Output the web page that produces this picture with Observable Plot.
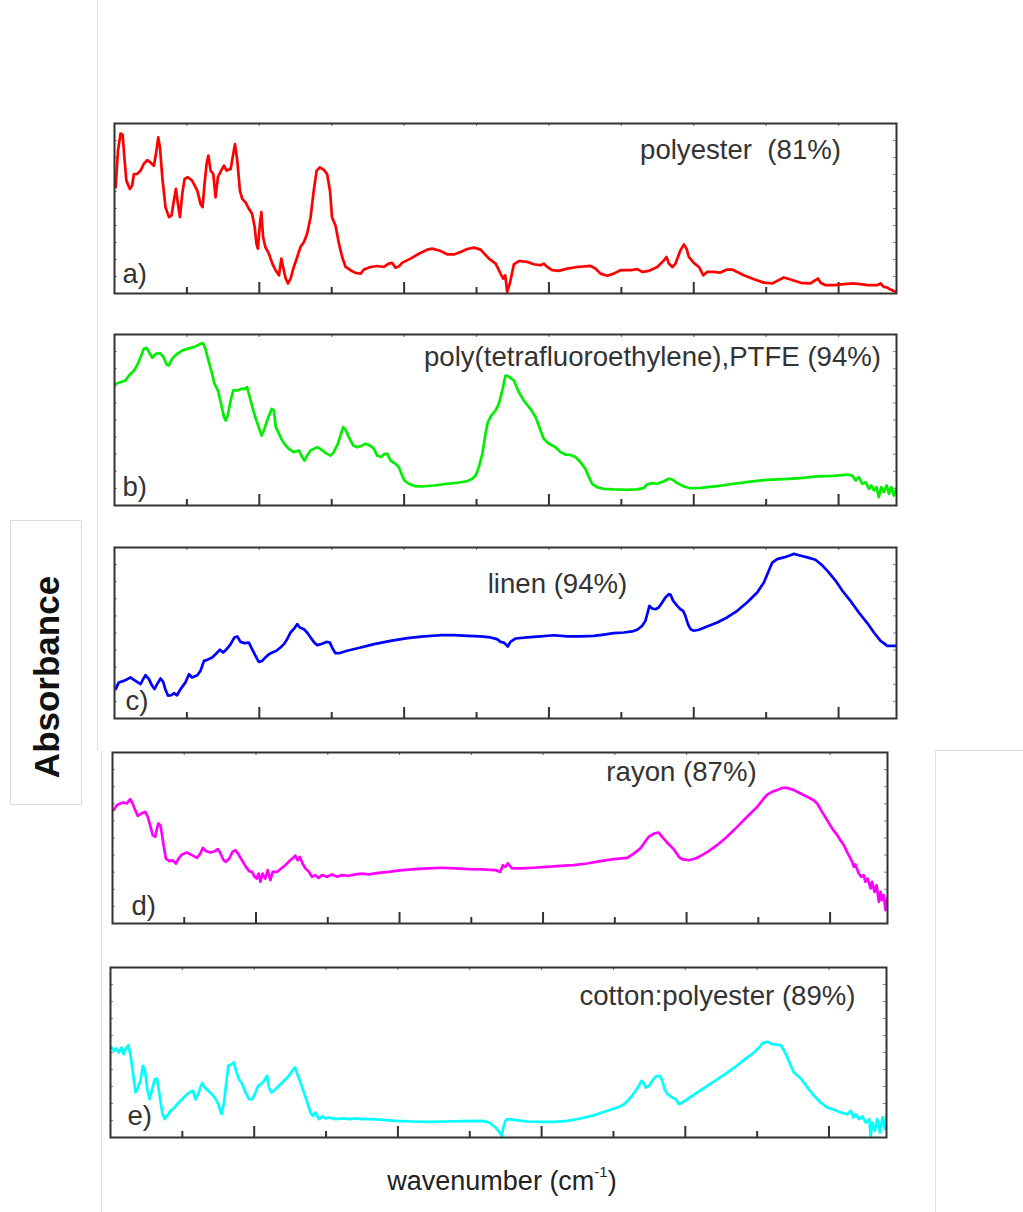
<!DOCTYPE html>
<html>
<head>
<meta charset="utf-8">
<script src="https://cdn.jsdelivr.net/npm/d3@7"></script>
<script src="https://cdn.jsdelivr.net/npm/@observablehq/plot@0.6"></script>
<style>
  html, body { margin: 0; background: #fff; }
  #page { position: relative; width: 1023px; height: 1212px; overflow: hidden;
          font-family: "Liberation Sans", Arial, Helvetica, sans-serif; }
  .rule { position: absolute; background: #dedede; }
  .panel { position: absolute; }
  .panel svg { display: block; max-width: none; }
  #ybox { position: absolute; left: 10px; top: 520px; width: 72px; height: 285px;
          border: 1px solid #dcdcdc; box-sizing: border-box; }
  #ylabel { position: absolute; left: 47px; top: 677px; transform: translate(-50%, -50%) rotate(-90deg);
            white-space: nowrap; font-weight: bold; font-size: 35px; color: #111; }
  #xlabel { position: absolute; left: 502px; top: 1181px; transform: translate(-50%, -50%);
            white-space: nowrap; font-size: 27px; color: #222; }
  #xlabel sup { font-size: 15px; position: relative; top: -3px; }
</style>
</head>
<body>
<div id="page">
  <div class="rule" style="left:97px;top:0;width:1px;height:751px"></div>
  <div class="rule" style="left:101px;top:751px;width:1px;height:461px"></div>
  <div class="rule" style="left:935px;top:751px;width:1px;height:461px"></div>
  <div class="rule" style="left:935px;top:750px;width:88px;height:1px"></div>
  <div id="ybox"></div>
  <div id="ylabel">Absorbance</div>
  <div id="xlabel">wavenumber (cm<sup>-1</sup>)</div>
</div>
<script>
// FTIR absorbance spectra: [wavenumber (cm-1), relative absorbance]
const polyester = [[504,0.625],[512,0.840],[521,0.941],[528,0.934],[535,0.781],[541,0.664],[553,0.615],[561,0.635],[567,0.703],[578,0.703],[590,0.723],[601,0.762],[613,0.785],[624,0.771],[636,0.752],[645,0.840],[651,0.918],[657,0.859],[665,0.684],[676,0.508],[688,0.449],[697,0.459],[705,0.547],[712,0.615],[719,0.527],[726,0.449],[734,0.586],[742,0.674],[753,0.684],[768,0.664],[786,0.605],[797,0.527],[804,0.508],[811,0.645],[818,0.762],[824,0.811],[832,0.723],[841,0.703],[849,0.566],[857,0.684],[868,0.723],[878,0.752],[887,0.723],[901,0.732],[910,0.820],[916,0.879],[924,0.781],[933,0.605],[941,0.557],[952,0.537],[964,0.498],[975,0.469],[984,0.391],[990,0.293],[995,0.264],[1002,0.410],[1007,0.479],[1013,0.332],[1021,0.273],[1033,0.234],[1045,0.176],[1056,0.137],[1068,0.107],[1076,0.205],[1082,0.156],[1091,0.088],[1099,0.059],[1108,0.088],[1119,0.156],[1131,0.215],[1142,0.273],[1154,0.303],[1165,0.352],[1177,0.449],[1188,0.605],[1198,0.723],[1209,0.742],[1223,0.727],[1234,0.703],[1244,0.605],[1251,0.449],[1263,0.400],[1275,0.293],[1286,0.215],[1298,0.156],[1315,0.137],[1332,0.121],[1350,0.117],[1361,0.141],[1384,0.156],[1407,0.162],[1430,0.156],[1447,0.176],[1459,0.180],[1470,0.152],[1482,0.160],[1493,0.180],[1522,0.205],[1551,0.234],[1580,0.258],[1597,0.264],[1626,0.250],[1649,0.230],[1672,0.230],[1695,0.244],[1718,0.262],[1741,0.270],[1764,0.258],[1793,0.205],[1816,0.176],[1833,0.117],[1842,0.088],[1849,0.107],[1856,0.010],[1865,0.059],[1879,0.172],[1896,0.191],[1925,0.186],[1948,0.172],[1971,0.166],[1982,0.176],[1994,0.156],[2011,0.137],[2034,0.133],[2063,0.146],[2097,0.156],[2144,0.162],[2161,0.146],[2178,0.117],[2201,0.104],[2224,0.117],[2247,0.137],[2282,0.137],[2305,0.143],[2322,0.127],[2345,0.133],[2374,0.156],[2397,0.195],[2406,0.215],[2414,0.176],[2426,0.156],[2437,0.176],[2454,0.254],[2466,0.289],[2475,0.264],[2483,0.215],[2500,0.180],[2518,0.156],[2533,0.107],[2546,0.127],[2569,0.127],[2592,0.123],[2615,0.141],[2633,0.141],[2650,0.127],[2673,0.107],[2708,0.084],[2742,0.064],[2771,0.059],[2788,0.074],[2811,0.094],[2834,0.082],[2869,0.063],[2903,0.059],[2920,0.078],[2929,0.088],[2938,0.063],[2955,0.049],[2984,0.049],[3018,0.055],[3053,0.059],[3076,0.055],[3099,0.049],[3133,0.049],[3145,0.059],[3156,0.039],[3168,0.035],[3179,0.023],[3197,0.010]];

const ptfe = [[504,0.712],[521,0.721],[538,0.731],[550,0.760],[567,0.789],[578,0.819],[590,0.867],[601,0.916],[611,0.922],[619,0.897],[630,0.864],[642,0.887],[657,0.891],[668,0.871],[680,0.825],[688,0.819],[699,0.858],[716,0.887],[734,0.906],[751,0.916],[774,0.926],[797,0.945],[806,0.949],[814,0.916],[826,0.838],[837,0.770],[845,0.712],[857,0.673],[868,0.595],[878,0.517],[884,0.497],[891,0.526],[901,0.614],[910,0.673],[924,0.673],[937,0.682],[949,0.682],[958,0.692],[967,0.634],[979,0.556],[990,0.497],[998,0.458],[1008,0.409],[1016,0.439],[1027,0.497],[1036,0.536],[1043,0.565],[1050,0.556],[1057,0.458],[1068,0.419],[1079,0.380],[1091,0.351],[1102,0.331],[1119,0.312],[1137,0.322],[1148,0.283],[1156,0.263],[1165,0.292],[1177,0.322],[1188,0.331],[1200,0.341],[1211,0.331],[1225,0.312],[1234,0.302],[1246,0.292],[1257,0.312],[1271,0.361],[1280,0.409],[1290,0.458],[1298,0.442],[1309,0.400],[1324,0.351],[1338,0.341],[1355,0.351],[1367,0.361],[1382,0.351],[1396,0.331],[1407,0.292],[1421,0.283],[1432,0.302],[1442,0.302],[1453,0.263],[1470,0.244],[1482,0.224],[1493,0.175],[1501,0.146],[1516,0.127],[1539,0.113],[1562,0.111],[1603,0.117],[1649,0.127],[1683,0.133],[1718,0.142],[1735,0.156],[1747,0.175],[1758,0.224],[1770,0.302],[1781,0.419],[1789,0.487],[1801,0.526],[1816,0.556],[1827,0.595],[1839,0.673],[1850,0.760],[1861,0.754],[1879,0.731],[1896,0.663],[1913,0.614],[1936,0.565],[1954,0.517],[1971,0.439],[1982,0.390],[2000,0.361],[2023,0.341],[2040,0.312],[2057,0.298],[2074,0.296],[2092,0.283],[2109,0.253],[2126,0.214],[2138,0.166],[2149,0.127],[2166,0.107],[2190,0.097],[2224,0.094],[2270,0.092],[2305,0.094],[2328,0.103],[2339,0.123],[2356,0.131],[2374,0.127],[2397,0.142],[2414,0.156],[2426,0.152],[2443,0.131],[2466,0.111],[2489,0.101],[2523,0.103],[2581,0.113],[2638,0.127],[2696,0.140],[2754,0.150],[2811,0.154],[2869,0.160],[2926,0.170],[2984,0.173],[3030,0.181],[3047,0.175],[3059,0.146],[3070,0.166],[3082,0.127],[3093,0.136],[3105,0.097],[3113,0.117],[3122,0.088],[3131,0.107],[3139,0.049],[3147,0.107],[3156,0.078],[3166,0.117],[3174,0.068],[3182,0.107],[3191,0.058],[3197,0.088]];

const linen = [[504,0.172],[515,0.211],[532,0.220],[544,0.230],[555,0.240],[567,0.226],[578,0.214],[590,0.201],[599,0.230],[607,0.253],[619,0.230],[630,0.191],[638,0.172],[647,0.201],[659,0.234],[668,0.214],[676,0.168],[685,0.133],[696,0.136],[705,0.148],[716,0.136],[728,0.172],[745,0.211],[757,0.259],[768,0.240],[786,0.253],[797,0.279],[809,0.337],[820,0.343],[837,0.357],[849,0.376],[864,0.402],[875,0.386],[887,0.405],[901,0.435],[914,0.474],[924,0.480],[935,0.448],[949,0.441],[964,0.444],[975,0.405],[987,0.366],[998,0.331],[1010,0.337],[1021,0.357],[1033,0.376],[1045,0.386],[1059,0.396],[1073,0.415],[1085,0.435],[1096,0.464],[1108,0.503],[1123,0.532],[1131,0.552],[1140,0.532],[1154,0.522],[1165,0.503],[1177,0.474],[1188,0.448],[1200,0.429],[1214,0.435],[1232,0.448],[1244,0.444],[1251,0.415],[1263,0.382],[1275,0.382],[1303,0.396],[1350,0.415],[1396,0.435],[1453,0.454],[1511,0.470],[1568,0.480],[1626,0.487],[1672,0.487],[1718,0.483],[1764,0.480],[1798,0.474],[1821,0.464],[1833,0.448],[1844,0.444],[1850,0.435],[1858,0.421],[1867,0.448],[1885,0.468],[1925,0.474],[1971,0.480],[2017,0.487],[2063,0.480],[2109,0.480],[2155,0.483],[2190,0.491],[2224,0.499],[2259,0.503],[2287,0.509],[2305,0.519],[2322,0.542],[2333,0.571],[2341,0.620],[2347,0.659],[2356,0.643],[2368,0.639],[2379,0.649],[2391,0.678],[2402,0.708],[2414,0.727],[2420,0.723],[2429,0.688],[2443,0.659],[2454,0.639],[2463,0.630],[2471,0.600],[2480,0.552],[2489,0.522],[2500,0.513],[2518,0.519],[2546,0.538],[2581,0.561],[2615,0.591],[2650,0.630],[2684,0.678],[2719,0.737],[2742,0.795],[2759,0.864],[2771,0.912],[2788,0.932],[2811,0.942],[2834,0.955],[2846,0.963],[2863,0.955],[2892,0.942],[2920,0.928],[2943,0.897],[2966,0.854],[2990,0.805],[3013,0.747],[3041,0.688],[3070,0.620],[3099,0.558],[3122,0.503],[3145,0.454],[3156,0.441],[3168,0.425],[3185,0.425],[3197,0.425]];

const rayon = [[504,0.663],[515,0.692],[527,0.702],[538,0.708],[550,0.702],[562,0.727],[570,0.702],[579,0.663],[588,0.630],[600,0.643],[614,0.653],[623,0.624],[631,0.575],[640,0.517],[649,0.507],[655,0.556],[660,0.585],[667,0.575],[672,0.526],[678,0.458],[686,0.380],[698,0.365],[709,0.370],[721,0.351],[730,0.380],[742,0.404],[759,0.415],[777,0.400],[794,0.384],[806,0.409],[815,0.442],[827,0.423],[841,0.415],[856,0.423],[867,0.435],[875,0.415],[887,0.370],[895,0.361],[907,0.380],[918,0.419],[928,0.429],[939,0.404],[951,0.370],[965,0.331],[976,0.306],[986,0.302],[995,0.273],[1002,0.263],[1009,0.292],[1015,0.244],[1023,0.292],[1032,0.263],[1041,0.312],[1050,0.253],[1058,0.302],[1073,0.302],[1088,0.322],[1102,0.341],[1116,0.365],[1127,0.380],[1137,0.396],[1145,0.370],[1153,0.390],[1162,0.351],[1172,0.322],[1183,0.306],[1195,0.273],[1206,0.283],[1218,0.267],[1230,0.283],[1247,0.273],[1265,0.287],[1282,0.273],[1299,0.283],[1323,0.279],[1346,0.287],[1369,0.292],[1392,0.287],[1427,0.296],[1462,0.302],[1508,0.312],[1555,0.318],[1601,0.322],[1648,0.326],[1694,0.322],[1741,0.318],[1787,0.316],[1834,0.312],[1851,0.302],[1860,0.341],[1869,0.331],[1877,0.351],[1892,0.322],[1921,0.322],[1967,0.326],[2014,0.331],[2060,0.337],[2107,0.341],[2153,0.351],[2200,0.365],[2246,0.376],[2293,0.384],[2316,0.409],[2339,0.439],[2351,0.468],[2368,0.507],[2386,0.526],[2403,0.532],[2415,0.507],[2432,0.474],[2455,0.435],[2473,0.390],[2484,0.376],[2508,0.370],[2531,0.380],[2554,0.400],[2577,0.423],[2606,0.458],[2641,0.507],[2676,0.565],[2711,0.624],[2746,0.682],[2769,0.731],[2781,0.754],[2798,0.770],[2815,0.780],[2833,0.793],[2850,0.793],[2874,0.780],[2897,0.760],[2920,0.741],[2943,0.721],[2955,0.702],[2972,0.653],[2990,0.604],[3007,0.556],[3025,0.517],[3036,0.487],[3048,0.458],[3059,0.419],[3065,0.400],[3077,0.361],[3083,0.331],[3088,0.345],[3100,0.292],[3108,0.273],[3117,0.283],[3123,0.244],[3131,0.263],[3141,0.205],[3146,0.244],[3155,0.185],[3162,0.224],[3170,0.127],[3176,0.185],[3181,0.136],[3187,0.166],[3193,0.078],[3199,0.146]];

const cottonPolyester = [[504,0.529],[512,0.510],[520,0.524],[529,0.500],[538,0.529],[546,0.490],[552,0.520],[562,0.543],[570,0.480],[578,0.382],[587,0.265],[596,0.294],[604,0.333],[613,0.422],[620,0.392],[628,0.284],[636,0.225],[645,0.284],[654,0.343],[662,0.347],[671,0.245],[680,0.147],[688,0.108],[697,0.127],[709,0.157],[720,0.171],[732,0.196],[744,0.216],[755,0.235],[767,0.255],[778,0.269],[787,0.275],[796,0.225],[805,0.255],[813,0.294],[819,0.320],[828,0.294],[840,0.275],[852,0.255],[863,0.235],[875,0.196],[886,0.137],[895,0.206],[903,0.324],[910,0.422],[921,0.431],[929,0.441],[937,0.392],[947,0.343],[958,0.314],[970,0.265],[982,0.225],[993,0.225],[1002,0.255],[1014,0.304],[1022,0.314],[1034,0.333],[1045,0.363],[1051,0.294],[1060,0.265],[1074,0.284],[1086,0.304],[1098,0.324],[1109,0.343],[1121,0.363],[1132,0.392],[1142,0.412],[1150,0.373],[1161,0.324],[1173,0.265],[1185,0.206],[1196,0.147],[1204,0.127],[1213,0.147],[1225,0.108],[1237,0.124],[1248,0.112],[1260,0.118],[1283,0.108],[1306,0.112],[1330,0.108],[1353,0.112],[1376,0.108],[1411,0.108],[1446,0.104],[1492,0.098],[1550,0.094],[1608,0.092],[1666,0.094],[1724,0.096],[1794,0.098],[1817,0.088],[1840,0.059],[1858,0.020],[1861,0.004],[1867,0.059],[1874,0.098],[1881,0.108],[1904,0.104],[1950,0.094],[1997,0.092],[2043,0.092],[2090,0.098],[2136,0.112],[2182,0.131],[2229,0.157],[2264,0.176],[2287,0.196],[2310,0.235],[2327,0.275],[2339,0.304],[2347,0.333],[2354,0.324],[2362,0.294],[2374,0.304],[2385,0.333],[2397,0.359],[2412,0.363],[2420,0.333],[2428,0.284],[2438,0.255],[2455,0.235],[2467,0.225],[2478,0.196],[2490,0.206],[2507,0.225],[2542,0.265],[2577,0.304],[2612,0.343],[2646,0.382],[2681,0.425],[2716,0.471],[2739,0.500],[2762,0.539],[2768,0.555],[2786,0.563],[2803,0.549],[2832,0.543],[2844,0.510],[2855,0.471],[2867,0.422],[2878,0.382],[2902,0.347],[2925,0.294],[2948,0.245],[2971,0.206],[2994,0.176],[3018,0.163],[3041,0.147],[3064,0.137],[3076,0.157],[3085,0.118],[3093,0.137],[3105,0.108],[3116,0.124],[3128,0.088],[3140,0.108],[3145,0.010],[3151,0.088],[3159,0.039],[3168,0.108],[3177,0.029],[3186,0.118],[3194,0.049],[3199,0.127]];

const seriesData = [polyester, ptfe, linen, rayon, cottonPolyester];
const seriesNames = ["polyester\u00a0 (81%)", "poly(tetrafluoroethylene),PTFE (94%)", "linen (94%)", "rayon (87%)", "cotton:polyester (89%)"];
const panelLetters = ["a)", "b)", "c)", "d)", "e)"];
const seriesColors = ["#ff0000", "#00ee00", "#0000ff", "#ff00ff", "#00ffff"];

// Shared axes: wavenumber range and tick positions (no tick labels are drawn)
const xDomain = [500, 3200];
const yDomain = [0, 1];
const majorTicks = [1000, 1500, 2000, 2500, 3000];
const minorTicks = [750, 1250, 1750, 2250, 2750];
const sideTicks = [0.1, 0.2, 0.3, 0.4, 0.5, 0.6, 0.7, 0.8, 0.9];

// Frame placement of each stacked panel on the page, with label offsets
const layout = [
  {left: 114, top: 123, w: 782, h: 170, tx: 626, ty: 27, lx: 8,  ly: -19},
  {left: 114, top: 334, w: 782, h: 171, tx: 538, ty: 23, lx: 8,  ly: -18},
  {left: 114, top: 547, w: 782, h: 171, tx: 443, ty: 37, lx: 11, ly: -17},
  {left: 112, top: 752, w: 775, h: 171, tx: 569, ty: 20, lx: 19, ly: -17},
  {left: 110, top: 967, w: 776, h: 170, tx: 607, ty: 29, lx: 17, ly: -21}
];

const page = document.getElementById("page");
const M = 6;
const ink = "#333";

layout.forEach((L, i) => {
  const chart = Plot.plot({
    width: L.w + 2 * M,
    height: L.h + 2 * M,
    margin: M,
    x: {domain: xDomain, axis: null},
    y: {domain: yDomain, axis: null},
    style: {fontFamily: "'Liberation Sans', Arial, Helvetica, sans-serif", background: "transparent", overflow: "visible"},
    marks: [
      Plot.tickY(sideTicks, {y: d => d, insetRight: L.w - 3, stroke: "#888", strokeWidth: 1}),
      Plot.tickY(sideTicks, {y: d => d, insetLeft: L.w - 3, stroke: "#888", strokeWidth: 1}),
      Plot.tickX(majorTicks.concat(minorTicks), {x: d => d, insetBottom: L.h - 3, stroke: "#777", strokeWidth: 1.2}),
      Plot.tickX(minorTicks, {x: d => d, insetTop: L.h - 6, stroke: ink, strokeWidth: 2}),
      Plot.tickX(majorTicks, {x: d => d, insetTop: L.h - 11, stroke: ink, strokeWidth: 2}),
      Plot.line(seriesData[i], {x: d => d[0], y: d => d[1], stroke: seriesColors[i], strokeWidth: 2.7,
                                strokeLinejoin: "round", strokeLinecap: "round", clip: true}),
      Plot.text([seriesNames[i]], {text: d => d, frameAnchor: "top-left", dx: L.tx, dy: L.ty,
                                   textAnchor: "middle", lineAnchor: "middle", fontSize: 27.6, fill: ink}),
      Plot.text([panelLetters[i]], {text: d => d, frameAnchor: "bottom-left", dx: L.lx, dy: L.ly,
                                    textAnchor: "start", lineAnchor: "middle", fontSize: 27.6, fill: ink}),
      Plot.frame({stroke: ink, strokeWidth: 2})
    ]
  });
  const holder = document.createElement("div");
  holder.className = "panel";
  holder.style.left = (L.left - M) + "px";
  holder.style.top = (L.top - M) + "px";
  holder.appendChild(chart);
  page.appendChild(holder);
});
</script>
</body>
</html>
